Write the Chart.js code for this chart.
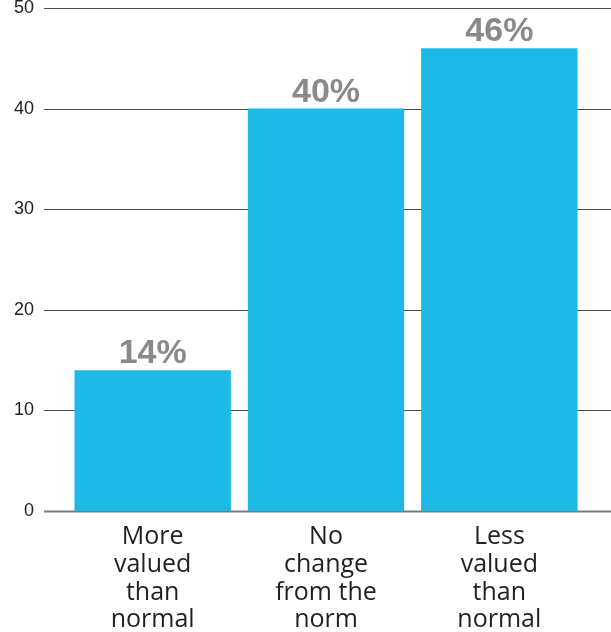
<!DOCTYPE html>
<html>
<head>
<meta charset="utf-8">
<script src="https://cdn.jsdelivr.net/npm/chart.js@4/dist/chart.umd.min.js"></script>
<style>
  html, body { margin: 0; padding: 0; background: #fff; }
  #grafica-wrap { width: 611px; height: 632px; position: relative; }
</style>
</head>
<body>
<div id="grafica-wrap"><canvas id="grafica"></canvas></div>
<script>
// datos de la grafica
const categorias = [
  ['More', 'valued', 'than', 'normal'],
  ['No', 'change', 'from the', 'norm'],
  ['Less', 'valued', 'than', 'normal']
];
const valores = [14, 40, 46];
const etiquetas = ['14%', '40%', '46%'];
const yMin = 0;
const yMax = 50;
const yPaso = 10;

// lineas horizontales de la rejilla, mas anchas que el area del grafico
const rejillaPlugin = {
  id: 'rejilla',
  beforeDatasetsDraw(chart) {
    const ctx = chart.ctx;
    const y = chart.scales.y;
    ctx.save();
    y.ticks.forEach(t => {
      const py = Math.round(y.getPixelForValue(t.value)) + 0.5;
      ctx.beginPath();
      if (t.value === 0) {
        ctx.strokeStyle = '#7a7a7a';
        ctx.lineWidth = 2;
      } else {
        ctx.strokeStyle = '#4a4a4a';
        ctx.lineWidth = 1.2;
      }
      ctx.moveTo(44, py);
      ctx.lineTo(chart.width, py);
      ctx.stroke();
    });
    ctx.restore();
  }
};

// porcentajes encima de cada barra
const etiquetasPlugin = {
  id: 'etiquetas',
  afterDatasetsDraw(chart) {
    const ctx = chart.ctx;
    const meta = chart.getDatasetMeta(0);
    ctx.save();
    ctx.font = 'bold 34px "Liberation Sans", Arial, sans-serif';
    ctx.fillStyle = '#8a8a8c';
    ctx.textAlign = 'center';
    ctx.textBaseline = 'alphabetic';
    meta.data.forEach((bar, i) => {
      ctx.fillText(etiquetas[i], bar.x, bar.y - 7);
    });
    ctx.restore();
  }
};

const ctx = document.getElementById('grafica').getContext('2d');
new Chart(ctx, {
  type: 'bar',
  data: {
    labels: categorias,
    datasets: [{
      data: valores,
      backgroundColor: '#1cb8e6',
      borderWidth: 0,
      barPercentage: 0.902,
      categoryPercentage: 1
    }]
  },
  options: {
    responsive: true,
    maintainAspectRatio: false,
    animation: false,
    layout: { padding: { top: 0, right: 25, left: 0, bottom: 0 } },
    plugins: {
      legend: { display: false },
      tooltip: { enabled: false }
    },
    scales: {
      x: {
        grid: { display: false, drawTicks: false },
        border: { display: false },
        afterFit(scale) { scale.height = 121; },
        ticks: {
          color: '#231f20',
          padding: 12,
          maxRotation: 0,
          autoSkip: false,
          font: { family: '"Open Sans", sans-serif', size: 25, lineHeight: 1.11 }
        }
      },
      y: {
        min: yMin,
        max: yMax,
        grid: { display: false, drawTicks: false },
        border: { display: false },
        afterFit(scale) {
          scale.width = 66;
          scale.paddingTop = 8;
          scale.paddingBottom = 0;
        },
        ticks: {
          stepSize: yPaso,
          color: '#222',
          padding: 32,
          font: { family: '"Liberation Sans", Arial, sans-serif', size: 18 }
        }
      }
    }
  },
  plugins: [rejillaPlugin, etiquetasPlugin]
});
</script>
</body>
</html>
